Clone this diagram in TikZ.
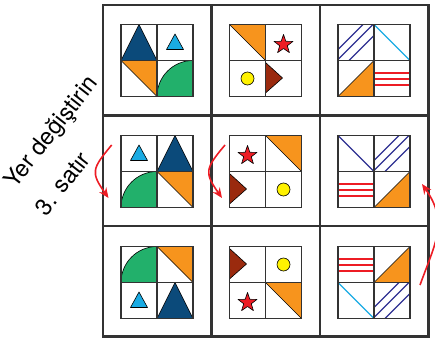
\documentclass[tikz,border=0pt]{standalone}
\usepackage{fontspec}
\usetikzlibrary{arrows.meta}
\newfontfamily\lblfont{TeX Gyre Heros}
\definecolor{qnavy}{HTML}{0B4A7A}
\definecolor{qsky}{HTML}{1AABE3}
\definecolor{qorange}{HTML}{F7941D}
\definecolor{qgreen}{HTML}{22B06B}
\definecolor{qred}{HTML}{ED1C24}
\definecolor{qyellow}{HTML}{FFF200}
\definecolor{qbrown}{HTML}{9A2A0E}
\definecolor{qindigo}{HTML}{2E3192}
\definecolor{qframe}{HTML}{333333}
% one small piece, #1,#2 = lower left corner of the quarter
\newcommand{\bigtri}[2]{\filldraw[shp, fill=qnavy, shift={(#1,#2)}] (0,0) -- (36,0) -- (18,36) -- cycle;}
\newcommand{\smalltri}[2]{\filldraw[shp, fill=qsky, shift={(#1,#2)}] (9.5,11) -- (26.5,11) -- (18,26.5) -- cycle;}
\newcommand{\orangetop}[2]{\filldraw[shp, fill=qorange, shift={(#1,#2)}] (0,36) -- (36,36) -- (36,0) -- cycle;}
\newcommand{\orangelow}[2]{\filldraw[shp, fill=qorange, shift={(#1,#2)}] (0,0) -- (36,0) -- (36,36) -- cycle;}
\newcommand{\greenquart}[2]{\filldraw[shp, fill=qgreen, shift={(#1,#2)}] (0,0) arc[start angle=180, end angle=90, radius=36] -- (36,0) -- cycle;}
\newcommand{\redstar}[2]{\filldraw[shp, fill=qred, shift={(#1+18,#2+16)}] (90:10) -- (126:4) -- (162:10) -- (198:4) -- (234:10) -- (270:4) -- (306:10) -- (342:4) -- (18:10) -- (54:4) -- cycle;}
\newcommand{\yellowdot}[2]{\filldraw[shp, fill=qyellow, shift={(#1,#2)}] (18,18) circle[radius=6.5];}
\newcommand{\browntri}[2]{\filldraw[shp, fill=qbrown, shift={(#1,#2)}] (0,34) -- (0,3.5) -- (17,18.5) -- cycle;}
\newcommand{\hatchlines}[2]{\draw[hatch, shift={(#1,#2)}] (0,11) -- (25,36) (0,1) -- (35,36) (11,0) -- (36,25);}
\newcommand{\diagline}[3]{\draw[thinline, #3, shift={(#1,#2)}] (0,36) -- (36,0);}
\newcommand{\redlines}[2]{\draw[thinline, qred, shift={(#1,#2)}] (0,23.5) -- (36,23.5) (0,17.5) -- (36,17.5) (0,11.5) -- (36,11.5);}
\newcommand{\innerbox}{\draw[boxline] (-36,-36) rectangle (36,36) (-36,0) -- (36,0) (0,-36) -- (0,36);}

\begin{document}
\begin{tikzpicture}[x=1pt, y=1pt,
  shp/.style={draw=black, line width=0.6pt, line join=round},
  hatch/.style={qindigo, line width=1.3pt},
  thinline/.style={line width=1.3pt},
  boxline/.style={qframe, line width=1.7pt},
  gridline/.style={qframe, line width=2.8pt},
  swaparrow/.style={qred, line width=1.6pt, -{Stealth[length=10pt, width=8.5pt]}},
  lbl/.style={font=\lblfont\fontsize{23.5}{28}\selectfont, inner sep=0pt}]
  \useasboundingbox (0,0) rectangle (435,338);

  % first column
  \begin{scope}[shift={(157,277.5)}]
    \bigtri{-36}{0} \smalltri{0}{0} \orangetop{-36}{-36} \greenquart{0}{-36}
    \innerbox
  \end{scope}
  \begin{scope}[shift={(157,166.5)}]
    \smalltri{-36}{0} \bigtri{0}{0} \greenquart{-36}{-36} \orangetop{0}{-36}
    \innerbox
  \end{scope}
  \begin{scope}[shift={(157,55.5)}]
    \greenquart{-36}{0} \orangetop{0}{0} \smalltri{-36}{-36} \bigtri{0}{-36}
    \innerbox
  \end{scope}

  % second column
  \begin{scope}[shift={(265.5,277.5)}]
    \orangetop{-36}{0} \redstar{0}{0} \yellowdot{-36}{-36} \browntri{0}{-36}
    \innerbox
  \end{scope}
  \begin{scope}[shift={(265.5,166.5)}]
    \redstar{-36}{0} \orangetop{0}{0} \browntri{-36}{-36} \yellowdot{0}{-36}
    \innerbox
  \end{scope}
  \begin{scope}[shift={(265.5,55.5)}]
    \browntri{-36}{0} \yellowdot{0}{0} \redstar{-36}{-36} \orangetop{0}{-36}
    \innerbox
  \end{scope}

  % third column
  \begin{scope}[shift={(374,277.5)}]
    \hatchlines{-36}{0} \diagline{0}{0}{qsky} \orangelow{-36}{-36} \redlines{0}{-36}
    \innerbox
  \end{scope}
  \begin{scope}[shift={(374,166.5)}]
    \diagline{-36}{0}{qindigo} \hatchlines{0}{0} \redlines{-36}{-36} \orangelow{0}{-36}
    \innerbox
  \end{scope}
  \begin{scope}[shift={(374,55.5)}]
    \redlines{-36}{0} \orangelow{0}{0} \diagline{-36}{-36}{qsky} \hatchlines{0}{-36}
    \innerbox
  \end{scope}

  % outer grid
  \draw[gridline] (103,1.5) rectangle (428.5,333);
  \draw[gridline] (211.5,1.5) -- (211.5,333) (320,1.5) -- (320,333);
  \draw[gridline] (103,222.5) -- (428.5,222.5) (103,112) -- (428.5,112);

  % label
  \node[lbl, rotate=52] (lineone) at (52.5,205) {Yer değiştirin};
  \node[lbl, rotate=52] (linetwo) at (62.5,154.5) {3. satır};

  % arrows
  \coordinate (a1s) at (111.7,193);
  \coordinate (a1e) at (108.5,140);
  \coordinate (a2s) at (225,193);
  \coordinate (a2e) at (222,140);
  \coordinate (a3s) at (420,53);
  \coordinate (a3e) at (422,154);
  \draw[swaparrow] (a1s) to[out=230, in=125, looseness=1.5] (a1e);
  \draw[swaparrow] (a2s) to[out=230, in=125, looseness=1.5] (a2e);
  \draw[swaparrow] (a3s) to[out=70, in=-55, looseness=1.17] (a3e);
\end{tikzpicture}
\end{document}
